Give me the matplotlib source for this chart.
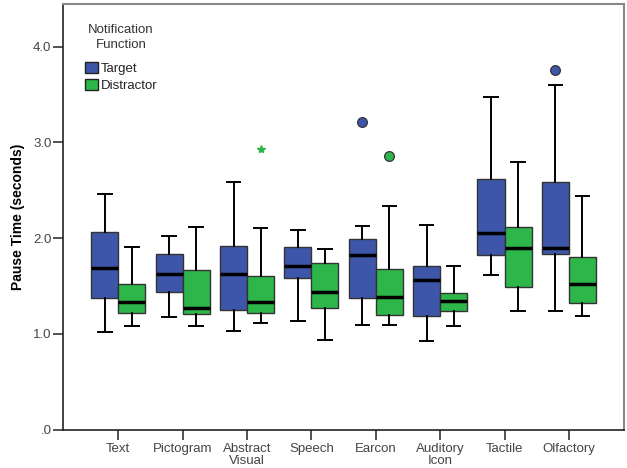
import matplotlib
matplotlib.use("Agg")
import matplotlib.pyplot as plt
from matplotlib.patches import Patch

plt.rcParams['font.family'] = ['Liberation Sans', 'DejaVu Sans']

categories = ["Text", "Pictogram", "Abstract\nVisual", "Speech", "Earcon",
              "Auditory\nIcon", "Tactile", "Olfactory"]
groups = ["Target", "Distractor"]
legend_title = "Notification\nFunction"

# five-number summaries per category
target_low = [1.02, 1.18, 1.03, 1.13, 1.09, 0.93, 1.62, 1.24]
target_q1 = [1.375, 1.44, 1.25, 1.58, 1.37, 1.19, 1.82, 1.83]
target_med = [1.69, 1.63, 1.63, 1.71, 1.82, 1.56, 2.05, 1.90]
target_q3 = [2.06, 1.83, 1.92, 1.91, 1.99, 1.71, 2.62, 2.59]
target_high = [2.46, 2.02, 2.59, 2.09, 2.13, 2.14, 3.47, 3.60]
target_outliers = [[], [], [], [], [3.21], [], [], [3.76]]

dist_low = [1.08, 1.08, 1.11, 0.94, 1.09, 1.08, 1.24, 1.19]
dist_q1 = [1.22, 1.21, 1.22, 1.27, 1.20, 1.24, 1.49, 1.32]
dist_med = [1.33, 1.27, 1.33, 1.435, 1.39, 1.34, 1.90, 1.525]
dist_q3 = [1.525, 1.665, 1.605, 1.745, 1.675, 1.43, 2.12, 1.80]
dist_high = [1.905, 2.12, 2.11, 1.89, 2.34, 1.71, 2.80, 2.44]
dist_outliers = [[], [], [], [], [2.86], [], [], []]
dist_extremes = [[], [], [2.93], [], [], [], [], []]

yticks = [0, 1, 2, 3, 4]
ytick_labels = [".0", "1.0", "2.0", "3.0", "4.0"]

blue = "#3D56A9"
green = "#2DB74A"

fig = plt.figure(figsize=(6.27, 4.68), dpi=100)
ax = fig.add_axes([0.101, 0.082, 0.894, 0.9095])

def stats(low, q1, med, q3, high, fl):
    return [dict(whislo=a, q1=b, med=c, q3=d, whishi=e, fliers=f)
            for a, b, c, d, e, f in zip(low, q1, med, q3, high, fl)]

off = 0.21
w = 0.42
for st, color, shift in [(stats(target_low, target_q1, target_med, target_q3, target_high, target_outliers), blue, -off),
                         (stats(dist_low, dist_q1, dist_med, dist_q3, dist_high, dist_outliers), green, off)]:
    pos = [i + shift for i in range(len(categories))]
    ax.bxp(st, positions=pos, widths=w, patch_artist=True, manage_ticks=False,
           capwidths=0.21,
           boxprops=dict(facecolor=color, edgecolor="#333333", linewidth=1.0),
           medianprops=dict(color="black", linewidth=2.5),
           whiskerprops=dict(color="black", linewidth=1.4),
           capprops=dict(color="black", linewidth=1.4),
           flierprops=dict(marker="o", markerfacecolor=color, markeredgecolor="#333333",
                           markersize=7, markeredgewidth=0.9, linestyle="none"))

for i, ex in enumerate(dist_extremes):
    if ex:
        ax.plot([i + off] * len(ex), ex, linestyle="none", marker="*", color=green,
                markersize=6)

ax.set_xlim(-0.854, len(categories) - 1 + 0.854)
ax.set_ylim(0, 4.446)
ax.set_yticks(yticks)
ax.set_yticklabels(ytick_labels)
ax.set_xticks(range(len(categories)))
ax.set_xticklabels(categories, linespacing=1.05)
ax.tick_params(axis="both", labelsize=9.5, labelcolor="#444444", color="#333333",
               length=7, width=1.2, direction="out")
ax.tick_params(axis="y", pad=1.5)
ax.tick_params(axis="x", pad=2.5)
ax.set_ylabel("Pause Time (seconds)", fontsize=10, fontweight="bold", labelpad=6)

for s in ["left", "bottom"]:
    ax.spines[s].set_color("#222222")
    ax.spines[s].set_linewidth(1.2)
for s in ["top", "right"]:
    ax.spines[s].set_color("#888888")
    ax.spines[s].set_linewidth(1.5)

ax.text(0.103, 0.921, legend_title, transform=ax.transAxes, ha="center", va="center",
        fontsize=9.5, color="#333333", linespacing=1.3)

handles = [Patch(facecolor=blue, edgecolor="#222222", label=groups[0]),
           Patch(facecolor=green, edgecolor="#222222", label=groups[1])]
leg = ax.legend(handles=handles, loc="upper left",
                bbox_to_anchor=(0.0387, 0.864), frameon=False, fontsize=9.5,
                handlelength=1.0, handleheight=0.95,
                handletextpad=0.2, labelspacing=0.28, borderaxespad=0, borderpad=0)
for t in leg.get_texts():
    t.set_color("#222222")

fig.savefig("out.png", dpi=100)
